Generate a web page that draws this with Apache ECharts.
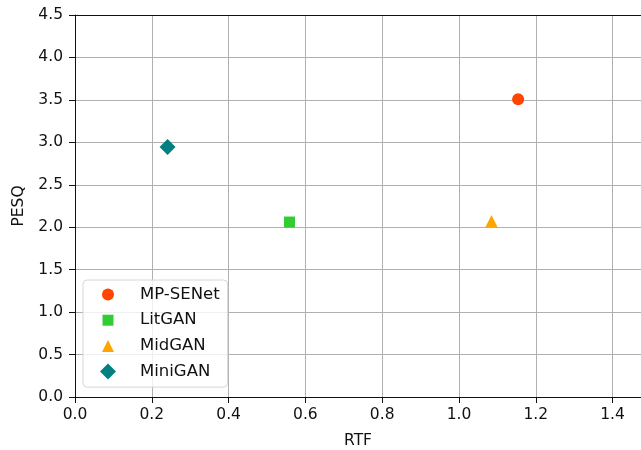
<!DOCTYPE html>
<html><head><meta charset="utf-8">
<script src="https://cdn.jsdelivr.net/npm/echarts@6/dist/echarts.min.js"></script>
<style>html,body{margin:0;padding:0;background:#fff}#c{width:641px;height:450px}</style>
</head><body><div id="c"></div>
<script>
const names = ['MP-SENet','LitGAN','MidGAN','MiniGAN'];
const rtf = [1.154, 0.5586, 1.0846, 0.241];
const pesq = [3.507, 2.061, 2.072, 2.945];
const colors = ['#FF4500','#32CD32','#FFA500','#008080'];
const symbols = ['circle','rect','triangle','diamond'];
const symSizes = [12, 11, 12, 16];
const xTicks = [0,0.2,0.4,0.6,0.8,1.0,1.2,1.4];
const yTicks = [0,0.5,1,1.5,2,2.5,3,3.5,4,4.5];

// legend icons drawn in a 16x16 box (degenerate corner points fix the box)
const pad = 'M0 0L0 0M16 16L16 16';
const legendIcons = [
  'path://' + pad + 'M14 8A6 6 0 1 1 2 8A6 6 0 1 1 14 8Z',
  'path://' + pad + 'M2.5 2.5L13.5 2.5L13.5 13.5L2.5 13.5Z',
  'path://' + pad + 'M8 2L14 14L2 14Z',
  'path://' + pad + 'M8 0L16 8L8 16L0 8Z'
];

const font = 'DejaVu Sans';
const fs = 15.5;
const chart = echarts.init(document.getElementById('c'));
const series = names.map((n,i)=>({
  name:n, type:'scatter', symbol:symbols[i], symbolSize:symSizes[i],
  data:[[rtf[i],pesq[i]]], itemStyle:{color:colors[i], opacity:1}, z:5
}));
chart.setOption({
  animation:false,
  grid:{left:75,right:0,top:15,bottom:53,containLabel:false,outerBoundsMode:'none'},
  legend:{
    orient:'vertical', left:83, top:280,
    data:names.map((n,i)=>({name:n, icon:legendIcons[i], itemStyle:{color:colors[i]}})),
    itemWidth:16, itemHeight:16, itemGap:8.7,
    padding:[6,8,7,17],
    backgroundColor:'rgba(255,255,255,0.8)', borderColor:'#d6d6d6', borderWidth:1, borderRadius:4,
    textStyle:{fontFamily:font,fontSize:16.5,color:'#111',lineHeight:16,padding:[0,0,0,19]}
  },
  xAxis:[{
    type:'value', min:0, max:1.474, interval:0.2,
    name:'RTF', nameLocation:'middle', nameGap:36,
    nameTextStyle:{fontFamily:font,fontSize:fs,color:'#111'},
    axisLine:{show:true,onZero:false,lineStyle:{color:'#111',width:1}},
    axisTick:{show:true,length:6,lineStyle:{color:'#111'}},
    axisLabel:{fontFamily:font,fontSize:fs,color:'#111',margin:10,showMaxLabel:false,
      formatter:v=>xTicks.some(t=>Math.abs(t-v)<1e-6)?v.toFixed(1):''},
    splitLine:{show:true,lineStyle:{color:'#b0b0b0',width:1}}
  },{
    type:'value', position:'top', min:0, max:1.474,
    axisLine:{show:true,onZero:false,lineStyle:{color:'#111',width:1}},
    axisTick:{show:false}, axisLabel:{show:false}, splitLine:{show:false}
  }],
  yAxis:{
    type:'value', min:0, max:4.5, interval:0.5,
    name:'PESQ', nameLocation:'middle', nameGap:47,
    nameTextStyle:{fontFamily:font,fontSize:fs,color:'#111'},
    axisLine:{show:true,onZero:false,lineStyle:{color:'#111',width:1}},
    axisTick:{show:true,length:6,lineStyle:{color:'#111'}},
    axisLabel:{fontFamily:font,fontSize:fs,color:'#111',margin:12,
      formatter:v=>yTicks.some(t=>Math.abs(t-v)<1e-6)?v.toFixed(1):''},
    splitLine:{show:true,lineStyle:{color:'#b0b0b0',width:1}}
  },
  series:series
});
</script></body></html>
